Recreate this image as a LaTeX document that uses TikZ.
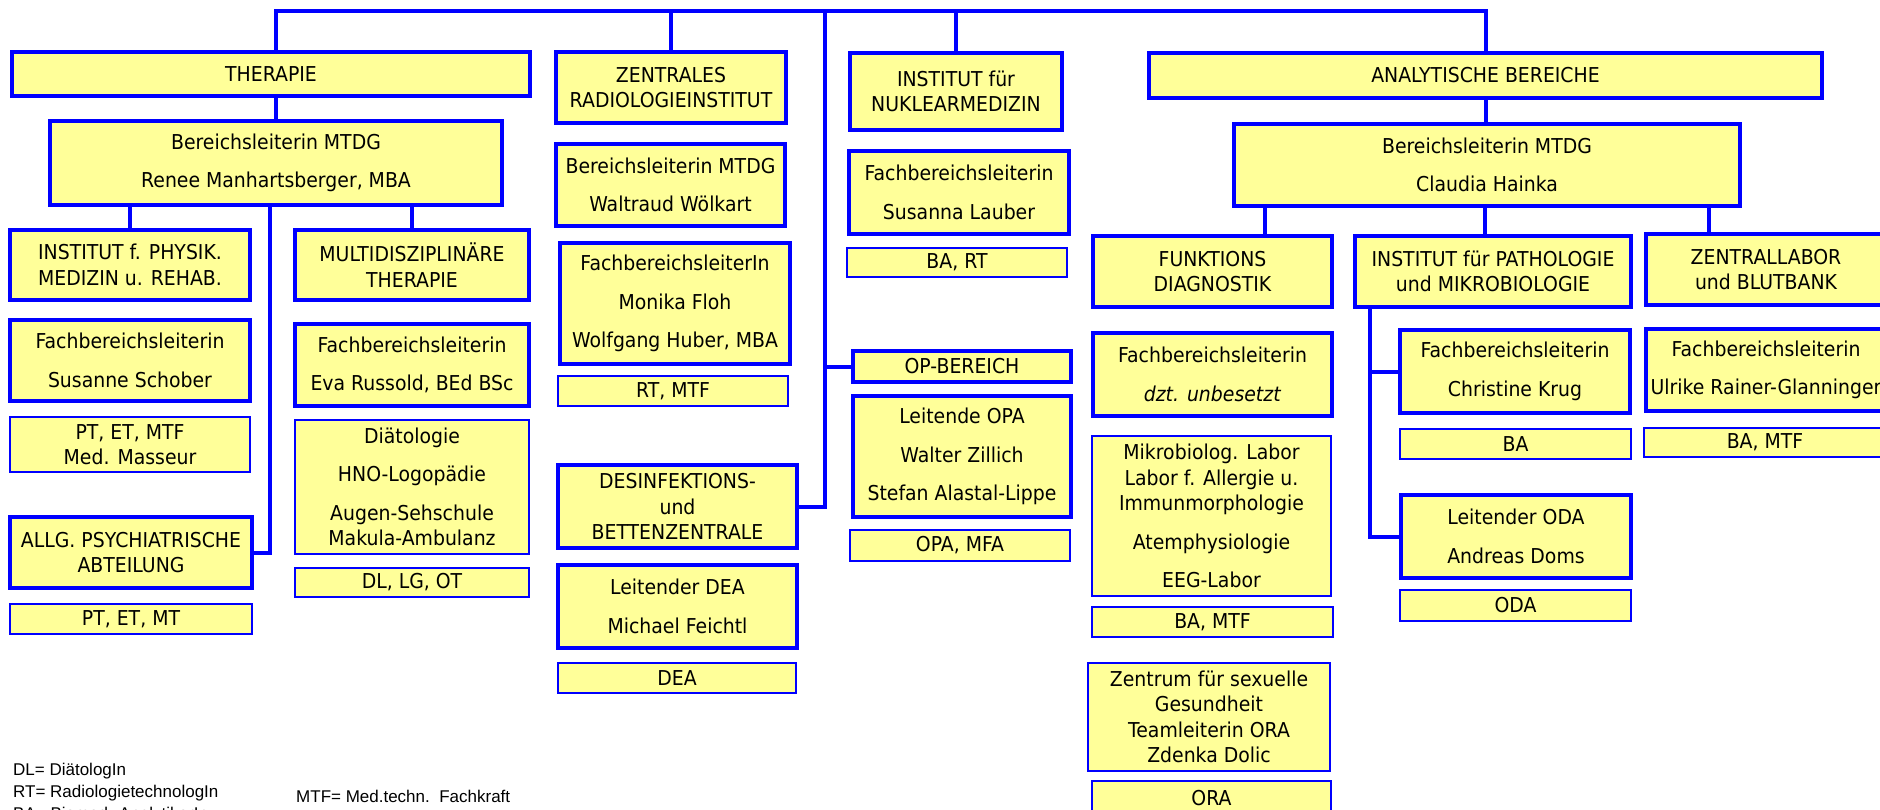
\documentclass[tikz,border=0pt]{standalone}
\usepackage{fontspec}
\setmainfont{DejaVu Sans}[FakeStretch=0.92]
\newfontfamily\legendfont{Liberation Sans}
\usepackage{tikz}
\usetikzlibrary{positioning,calc}
\definecolor{orgblue}{RGB}{0,0,255}
\definecolor{orgfill}{RGB}{255,255,153}

\begin{document}
\begin{tikzpicture}[x=1pt,y=-1pt,
  unit/.style={draw=orgblue,fill=orgfill,line width=4pt,inner sep=0pt,align=center,
    font=\fontsize{20.5}{25.5}\selectfont},
  staff/.style={unit,line width=2.5pt},
  wh/.style 2 args={minimum width=#1,minimum height=#2},
  link/.style={draw=orgblue,line width=4pt},
  legend/.style={anchor=north west,inner sep=0pt,align=left,
    font=\legendfont\fontsize{17}{22}\selectfont}]
\newcommand*{\ybus}{11}; \newcommand*{\xspine}{825};
\newcommand*{\gap}{\\[13pt]}
\useasboundingbox (0,0) rectangle (1880,809);
\clip (0,0) rectangle (1880,809);
\coordinate (bus) at (0,\ybus);
\coordinate (spine) at (\xspine,\ybus);
\node[unit,wh={518}{44}] (th) at (271,74) {THERAPIE};
\node[unit,wh={452}{84}] (thb) at (276,163) {Bereichsleiterin MTDG\gap Renee Manhartsberger, MBA};
\node[unit,wh={240}{70}] (ph) at (130,265) {INSTITUT f. PHYSIK.\\MEDIZIN u. REHAB.};
\node[unit,wh={234}{70}] (mu) at (412,265) {MULTIDISZIPLIN\"ARE\\THERAPIE};
\node[unit,wh={240}{81}] (phf) at (130,360.5) {Fachbereichsleiterin\gap Susanne Schober};
\node[staff,wh={240}{55}] (phs) at (130,444.5) {PT, ET, MTF\\Med. Masseur};
\node[unit,wh={242}{71}] (ps) at (131,552.5) {ALLG. PSYCHIATRISCHE\\ABTEILUNG};
\node[staff,wh={242}{30}] (pss) at (131,619) {PT, ET, MT};
\node[unit,wh={234}{82}] (muf) at (412,365) {Fachbereichsleiterin\gap Eva Russold, BEd BSc};
\node[staff,wh={234}{134}] (mul) at (412,487) {Di\"atologie\gap HNO-Logop\"adie\gap Augen-Sehschule\\Makula-Ambulanz};
\node[staff,wh={234}{29}] (mus) at (412,582.5) {DL, LG, OT};
\node[unit,wh={230}{71}] (zr) at (671,87.5) {ZENTRALES\\RADIOLOGIEINSTITUT};
\node[unit,wh={229}{82}] (zrb) at (670.5,185) {Bereichsleiterin MTDG\gap Waltraud W\"olkart};
\node[unit,wh={230}{121}] (zrf) at (675,303.5) {FachbereichsleiterIn\gap Monika Floh\gap Wolfgang Huber, MBA};
\node[staff,wh={230}{30}] (zrs) at (673,391) {RT, MTF};
\node[unit,wh={212}{77}] (nk) at (956,91.5) {INSTITUT f\"ur\\NUKLEARMEDIZIN};
\node[unit,wh={220}{83}] (nkf) at (959,192.5) {Fachbereichsleiterin\gap Susanna Lauber};
\node[staff,wh={220}{29}] (nks) at (957,262.5) {BA, RT};
\node[unit,wh={218}{31}] (op) at (962,366.5) {OP-BEREICH};
\node[unit,wh={218}{121}] (opl) at (962,456.5) {Leitende OPA\gap Walter Zillich\gap Stefan Alastal-Lippe};
\node[staff,wh={220}{31}] (ops) at (960,545.5) {OPA, MFA};
\node[unit,wh={239}{83}] (ds) at (677.5,506.5) {DESINFEKTIONS-\\und\\BETTENZENTRALE};
\node[unit,wh={239}{83}] (dsl) at (677.5,606.5) {Leitender DEA\gap Michael Feichtl};
\node[staff,wh={238}{30}] (dss) at (677,678) {DEA};
\node[unit,wh={673}{45}] (an) at (1485.5,75.5) {ANALYTISCHE BEREICHE};
\node[unit,wh={506}{82}] (anb) at (1487,165) {Bereichsleiterin MTDG\gap Claudia Hainka};
\node[unit,wh={239}{71}] (fk) at (1212.5,271.5) {FUNKTIONS\\DIAGNOSTIK};
\node[unit,wh={276}{71}] (pa) at (1493,271.5) {INSTITUT f\"ur PATHOLOGIE\\und MIKROBIOLOGIE};
\node[unit,wh={240}{71}] (zl) at (1766,269.5) {ZENTRALLABOR\\und BLUTBANK};
\node[unit,wh={239}{83}] (fkf) at (1212.5,374.5) {Fachbereichsleiterin\gap\textit{dzt. unbesetzt}};
\node[staff,wh={239}{160}] (fkl) at (1211.5,516) {Mikrobiolog. Labor\\Labor f. Allergie u.\\Immunmorphologie\gap Atemphysiologie\gap EEG-Labor};
\node[staff,wh={241}{30}] (fks) at (1212.5,622) {BA, MTF};
\node[staff,wh={242}{108}] (zs) at (1209,717) {Zentrum f\"ur sexuelle\\Gesundheit\\Teamleiterin ORA\\Zdenka Dolic};
\node[staff,wh={239}{34}] (zss) at (1211.5,798) {ORA};
\node[unit,wh={230}{83}] (pab) at (1515,371.5) {Fachbereichsleiterin\gap Christine Krug};
\node[staff,wh={231}{30}] (pabs) at (1515.5,444) {BA};
\node[unit,wh={230}{83}] (pal) at (1516,536.5) {Leitender ODA\gap Andreas Doms};
\node[staff,wh={231}{31}] (pals) at (1515.5,605.5) {ODA};
\node[unit,wh={240}{82}] (zlf) at (1766,370) {Fachbereichsleiterin\gap Ulrike Rainer-Glanninger};
\node[staff,wh={242}{29}] (zls) at (1765,442.5) {BA, MTF};
\node[legend] (lgl) at (13,762.5) {DL= Di\"atologIn\\RT= RadiologietechnologIn\\BA= Biomed. AnalytikerIn};
\node[legend] (lgr) at (296,789.5) {MTF= Med.techn.\ \ Fachkraft\\ODA= ObduktionsassistentIn};
\draw[link] (th.north -| thb.north) |- (bus -| an.north) -- (an.north);
\draw[link] (zr.north) -- (zr.north |- bus);
\draw[link] (nk.north) -- (nk.north |- bus);
\draw[link] (spine) |- (ds.east);
\draw[link] (op.west) -- (op.west -| spine);
\draw[link] (th.south -| thb.north) -- (thb.north);
\draw[link] (ph.north) -- (ph.north |- thb.south);
\draw[link] (mu.north) -- (mu.north |- thb.south);
\draw[link] (ps.east) -| ([xshift=-6]thb.south);
\draw[link] (an.south) -- (an.south |- anb.north);
\draw[link] ([xshift=52.5]fk.north) -- ++(0,-30);
\draw[link] ([xshift=-8]pa.north) -- ++(0,-30);
\draw[link] ([xshift=-57]zl.north) -- ++(0,-28);
\draw[link] ([xshift=-123]pa.south) |- (pal.west);
\draw[link] (pab.west) -- ++(-30,0);
\end{tikzpicture}
\end{document}
